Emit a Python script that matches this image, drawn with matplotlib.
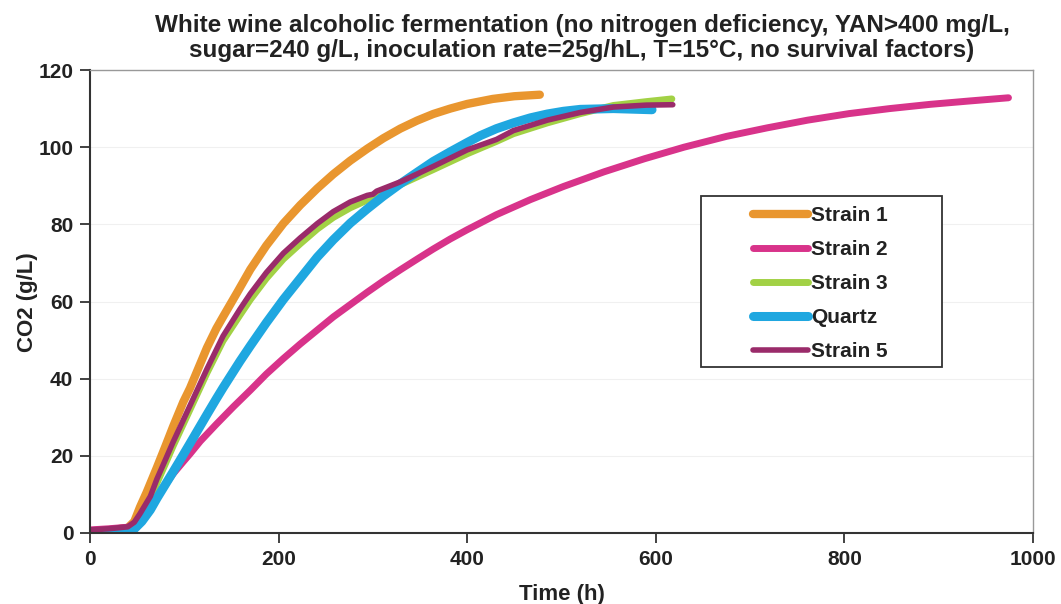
import numpy as np
import matplotlib.pyplot as plt
from matplotlib.patches import Rectangle

# values (time in h, CO2 in g/L)
strain1_t = [0, 20, 40, 47, 53, 60, 71, 80, 88, 99, 106, 124, 134, 141, 156, 170, 187, 205,
             223, 241, 258, 276, 294, 311, 329, 347, 364, 382, 400, 427, 450, 477]
strain1_co2 = [0.3, 0.7, 1.3, 3, 6.7, 10.5, 17, 22.5, 27.5, 34, 37.5, 48, 53, 56, 62.3, 68.3, 74.5, 80.2,
               85, 89.3, 93, 96.5, 99.6, 102.3, 104.8, 106.9, 108.6, 110, 111.2, 112.5, 113.2, 113.6]

strain2_t = [0, 20, 40, 46, 55, 64, 71, 80, 88, 99, 106, 117, 134, 152, 170, 187, 205, 223, 241,
             258, 276, 294, 311, 329, 347, 364, 382, 400, 431, 467, 502, 545, 588, 630, 675, 718,
             761, 805, 848, 891, 934, 974]
strain2_co2 = [0.8, 1.1, 1.5, 2.2, 4.5, 6.8, 9, 12.5, 15.3, 18.5, 20.5, 23.8, 28.2, 32.7, 37, 41.2, 45.2, 49, 52.6,
               56, 59.2, 62.4, 65.3, 68.2, 71, 73.6, 76.2, 78.6, 82.5, 86.4, 89.8, 93.6, 97, 100, 102.8, 105,
               107, 108.7, 110, 111.1, 112, 112.8]

strain3_t = [0, 20, 40, 47, 53, 64, 71, 80, 88, 99, 106, 124, 141, 159, 170, 187, 205, 223, 241,
             258, 276, 294, 311, 329, 364, 400, 431, 449, 485, 520, 555, 590, 617]
strain3_co2 = [0.0, 0.1, 0.6, 2.2, 4.3, 8.5, 13, 18, 22.5, 28.3, 32, 41.5, 49.8, 56.5, 60.5, 66, 71, 75, 78.8,
               81.8, 84.3, 86.3, 88.3, 90.3, 94.2, 98.3, 101.5, 103.5, 106.3, 108.7, 110.8, 111.8, 112.5]

quartz_t = [0, 20, 40, 46, 55, 64, 71, 88, 99, 106, 124, 134, 141, 159, 170, 187, 205, 223, 241,
            258, 276, 294, 311, 329, 347, 364, 382, 400, 414, 431, 449, 467, 485, 502, 520, 555, 596]
quartz_co2 = [0.0, 0.0, 0.2, 0.8, 3, 6, 9, 15.8, 20.3, 23.2, 30.7, 34.8, 37.6, 44.5, 48.5, 54.5, 60.5, 66, 71.5,
              76, 80.3, 84, 87.3, 90.5, 93.5, 96.3, 98.8, 101.2, 103, 104.8, 106.3, 107.6, 108.6, 109.3, 109.8, 110, 109.7]

strain5_t = [0, 20, 40, 47, 53, 64, 71, 80, 88, 99, 106, 124, 134, 141, 159, 170, 187, 205, 223,
             241, 258, 276, 294, 300, 304, 329, 364, 400, 431, 449, 485, 520, 555, 590, 618]
strain5_co2 = [0.8, 1.1, 1.6, 2.8, 5, 9.5, 14, 19, 23.5, 29.3, 33, 42.5, 47.5, 51, 58, 62, 67.5, 72.5, 76.5,
               80.2, 83.3, 85.8, 87.5, 87.8, 88.6, 91, 95, 99.3, 102, 104.3, 107, 109, 110.4, 110.9, 111]

labels = ['Strain 1', 'Strain 2', 'Strain 3', 'Quartz', 'Strain 5']
colors = ['#E9962F', '#D8338A', '#A2D145', '#1FA7E0', '#9A2B6A']
widths = [6, 5, 5, 6.5, 4]

plt.rcParams['font.family'] = ['Liberation Sans', 'DejaVu Sans']
plt.rcParams['font.weight'] = 'bold'

W, H = 1061, 604
fig = plt.figure(figsize=(W / 100, H / 100), dpi=100)
ax = fig.add_axes([90 / W, 71 / H, 943 / W, 463 / H])

series = [(strain1_t, strain1_co2), (strain2_t, strain2_co2), (strain3_t, strain3_co2),
          (quartz_t, quartz_co2), (strain5_t, strain5_co2)]
for (t, c), lab, col, lw in zip(series, labels, colors, widths):
    ax.plot(t, c, color=col, lw=lw, label=lab, solid_capstyle='round', solid_joinstyle='round')

ax.set_xlim(0, 1000)
ax.set_ylim(0, 120)
ax.set_xticks(np.arange(0, 1001, 200))
ax.set_yticks(np.arange(0, 121, 20))
ax.yaxis.grid(True, color='#f0f0f0', lw=0.8)
ax.set_axisbelow(True)

for s in ['left', 'bottom']:
    ax.spines[s].set_color('#333333')
    ax.spines[s].set_linewidth(1.5)
for s in ['top', 'right']:
    ax.spines[s].set_color('#999999')
    ax.spines[s].set_linewidth(1.0)
ax.tick_params(direction='out', length=7, width=1.3, color='#333333', labelsize=15, pad=5)
for lab in ax.get_xticklabels() + ax.get_yticklabels():
    lab.set_fontweight('bold')
    lab.set_color('#222222')

ax.set_xlabel('Time (h)', fontsize=16, fontweight='bold', color='#222222', labelpad=11)
fig.text(28 / W, 1 - 302 / H, 'CO2 (g/L)', rotation=90, ha='center', va='center',
         fontsize=16, fontweight='bold', color='#222222')

fig.text(582 / W, 1 - 38 / H,
         'White wine alcoholic fermentation (no nitrogen deficiency, YAN>400 mg/L,\n'
         'sugar=240 g/L, inoculation rate=25g/hL, T=15°C, no survival factors)',
         ha='center', va='center', fontsize=17.5, fontweight='bold', color='#222222',
         linespacing=1.07)

# legend box drawn separately so it can be wider than its contents
box = Rectangle((701 / W, 1 - 367 / H), 241 / W, 171 / H, transform=fig.transFigure,
                facecolor='white', edgecolor='#333333', lw=1.3, zorder=4)
ax.add_patch(box)
box.set_clip_on(False)

leg = ax.legend(loc='upper left', bbox_to_anchor=(753 / W, 1 - 206 / H), bbox_transform=fig.transFigure,
                frameon=False, fontsize=15, handlelength=2.65, handletextpad=0.15,
                labelspacing=0.72, borderpad=0, borderaxespad=0)
leg.set_zorder(5)
for txt in leg.get_texts():
    txt.set_fontweight('bold')
    txt.set_color('#222222')

fig.savefig('out.png', dpi=100)
